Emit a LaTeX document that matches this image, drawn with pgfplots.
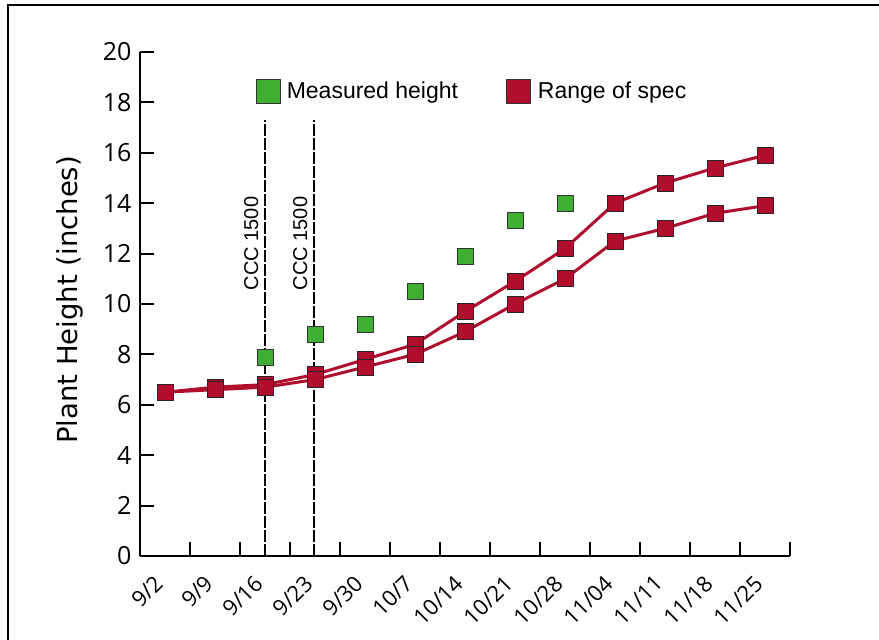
\documentclass[border=0pt]{standalone}
\usepackage{fontspec}
\setmainfont{Liberation Sans}
\newfontfamily\tickfont{Open Sans}
\newfontfamily\labelfont{DejaVu Sans}
\usepackage{pgfplots}
\pgfplotsset{compat=1.18}
\definecolor{measgreen}{RGB}{62,174,52}
\definecolor{specred}{RGB}{176,14,44}
\begin{document}
\begin{tikzpicture}
\useasboundingbox (0pt,0pt) rectangle (879pt,640pt);
\draw[line width=1.5pt] (8pt,-20pt) -- (8pt,635pt) -- (900pt,635pt);
\begin{axis}[
    at={(140pt,84pt)}, anchor=south west,
    scale only axis, width=650pt, height=504pt,
    xmin=-0.5, xmax=12.5, ymin=0, ymax=20,
    clip=false,
    axis x line*=bottom, axis y line*=left,
    axis line style={line width=2pt},
    xtick={-0.5,0.5,...,12.5},
    x tick label as interval,
    xticklabels={9/2,9/9,9/16,9/23,9/30,10/7,10/14,10/21,10/28,11/04,11/11,11/18,11/25},
    ytick={0,2,...,20},
    tick align=inside, major tick length=14pt,
    tick style={line width=2pt, black},
    /pgf/number format/assume math mode=true,
    y tick label style={font=\tickfont\fontsize{25}{29}\selectfont, xshift=-5pt},
    x tick label style={font=\tickfont\fontsize{22}{26}\selectfont,
        xshift=-12pt, yshift=-13pt, rotate=45, anchor=north east},
    ylabel={Plant Height (inches)},
    ylabel style={at={(axis description cs:-0.108,0.508)}, anchor=center, rotate=0,
        font=\labelfont\fontsize{27.5}{32}\selectfont},
    legend style={at={(axis description cs:0.1738,0.9226)}, anchor=west,
        draw=none, fill=none, legend columns=2,
        font=\fontsize{23}{27}\selectfont,
        /tikz/every even column/.append style={column sep=46pt}},
]
% measured height
\addplot[only marks, mark=square*, mark size=8pt,
    mark options={fill=measgreen, draw=black!80, line width=0.8pt},
    legend image code/.code={\draw[fill=measgreen, draw=black!80, line width=0.8pt] (0pt,-12pt) rectangle (24pt,12pt); \path (28pt,0pt);}]
    coordinates {(2,7.9) (3,8.8) (4,9.2) (5,10.5) (6,11.9) (7,13.3) (8,14.0)};
\addlegendentry{Measured height}
% range of spec, upper
\addplot[specred, line width=3pt, mark=square*, mark size=8pt,
    mark options={fill=specred, draw=black!85, line width=0.8pt},
    legend image code/.code={\draw[fill=specred, draw=black!80, line width=0.8pt] (0pt,-12pt) rectangle (24pt,12pt); \path (28pt,0pt);}]
    coordinates {(0,6.5) (1,6.7) (2,6.8) (3,7.2) (4,7.8) (5,8.4) (6,9.7) (7,10.9) (8,12.2) (9,14.0) (10,14.8) (11,15.4) (12,15.9)};
\addlegendentry{Range of spec}
% range of spec, lower
\addplot[specred, line width=3pt, mark=square*, mark size=8pt, forget plot,
    mark options={fill=specred, draw=black!85, line width=0.8pt}]
    coordinates {(0,6.5) (1,6.6) (2,6.7) (3,7.0) (4,7.5) (5,8.0) (6,8.9) (7,10.0) (8,11.0) (9,12.5) (10,13.0) (11,13.6) (12,13.9)};
% CCC 1500 application dates
\addplot[black, line width=1.8pt, dash pattern=on 12pt off 2pt, forget plot]
    coordinates {(2,0) (2,17.3)};
\addplot[black, line width=1.8pt, dash pattern=on 12pt off 2pt, forget plot]
    coordinates {(2.98,0) (2.98,17.3)};
\node[rotate=90, anchor=base, font=\fontsize{20}{24}\selectfont] at (axis cs:1.86,12.4) {CCC 1500};
\node[rotate=90, anchor=base, font=\fontsize{20}{24}\selectfont] at (axis cs:2.84,12.4) {CCC 1500};
\end{axis}
\end{tikzpicture}
\end{document}
